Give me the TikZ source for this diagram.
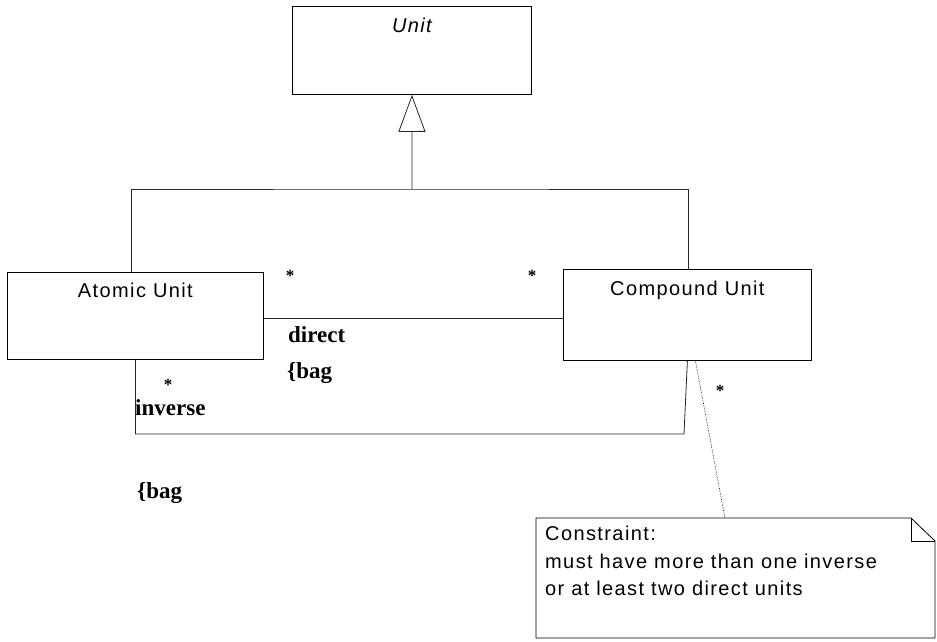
\documentclass[tikz,border=0pt]{standalone}
\usepackage{fontspec}
\newfontfamily\umlsans[LetterSpace=7]{Liberation Sans}
\newfontfamily\umlserif{Liberation Serif}
\usetikzlibrary{arrows.meta}

\tikzset{
  classbox/.style={draw, line width=0.8pt, inner sep=0pt, anchor=north west,
    font=\umlsans\fontsize{20}{24}\selectfont},
  notetext/.style={inner sep=0pt, align=left, anchor=north west,
    font=\umlsans\fontsize{20}{27.5}\selectfont},
  lbl/.style={inner sep=0pt, anchor=base west, font=\umlserif\bfseries\fontsize{23}{26}\selectfont},
  mult/.style={inner sep=0pt, font=\umlserif\bfseries\fontsize{17}{19}\selectfont},
  link/.style={line width=0.8pt, black!85},
}

\begin{document}
\begin{tikzpicture}[x=1pt, y=-1pt]
    \useasboundingbox (0,0) rectangle (937,641);
    % classes
    \node[classbox, minimum width=239pt, text height=26pt, text depth=62pt] (unit) at (292,6) {\itshape Unit};
    \node[classbox, minimum width=256pt, text height=25pt, text depth=62pt] (atomic) at (7,272) {Atomic Unit};
    \node[classbox, minimum width=248pt, text height=26pt, text depth=65pt] (compound) at (563,269) {Compound Unit};
    % generalization
    \coordinate (genjoin) at (412,189);
    \draw[link, -{Triangle[open, length=37pt, width=27pt]}] (genjoin) -- (unit.south);
    \draw[link] ([xshift=-4pt]atomic.north) |- (genjoin) -| ([xshift=1pt]compound.north);
    % associations
    \draw[link] ([yshift=-2pt]atomic.east) -- ([yshift=-2pt]atomic.east -| compound.west);
    \coordinate (invcorner) at (684,434);
    \draw[link] (atomic.south) |- (invcorner) -- (compound.south);
    % labels
    \node[mult] (starA) at (290,276) {*};
    \node[mult] (starC) at (532,276) {*};
    \node[lbl] (direct) at (288,342) {direct};
    \node[lbl] (bagA) at (287,378) {\{bag};
    \node[mult] (starInv) at (168,385) {*};
    \node[lbl] (inverse) at (135,415) {inverse};
    \node[lbl] (bagB) at (137,498) {\{bag};
    \node[mult] (starNote) at (720,391) {*};
    % note
    \coordinate (noteNW) at (536,518);
    \coordinate (noteFold) at (911,518);
    \coordinate (noteFoldR) at (935,541);
    \coordinate (noteSE) at (935,638);
    \coordinate (noteSW) at (536,638);
    \coordinate (noteTop) at (725,518);
    \draw[line width=0.8pt] (noteNW) -- (noteFold) -- (noteFoldR) -- (noteSE) -- (noteSW) -- cycle;
    \draw[line width=0.8pt] (noteFold) |- (noteFoldR);
    \node[notetext] (constraint) at (545,526) {Constraint:\\must have more than one inverse\\or at least two direct units};
    \draw[densely dotted, line width=0.6pt] ([xshift=8pt]compound.south) -- (noteTop);
\end{tikzpicture}
\end{document}
